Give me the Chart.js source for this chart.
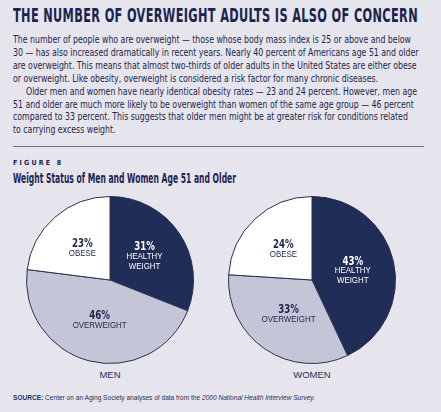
<!DOCTYPE html>
<html>
<head>
<meta charset="utf-8">
<script src="https://cdn.jsdelivr.net/npm/chart.js@4"></script>
<style>
  html, body { margin: 0; padding: 0; }
  body { width: 441px; height: 412px; background: #e6e5ee; position: relative; overflow: hidden;
         color: #1d2548; font-family: "DejaVu Sans Condensed", "Liberation Sans Narrow", "Liberation Sans", sans-serif; }
  .abs { position: absolute; white-space: nowrap; transform-origin: left center; }
  #title { left: 13px; top: 4px; font-size: 19px; font-weight: bold; color: #1b2450; letter-spacing: 0.5px; }
  .line { font-size: 11px; line-height: 13px; }
  #rule { position: absolute; left: 13px; top: 146px; width: 411px; height: 1px; background: #6e7088; }
  #fig { left: 13px; top: 159px; font-size: 7px; font-weight: bold; letter-spacing: 2.2px; color: #1b2450; }
  #subtitle { left: 13px; top: 170px; font-size: 14.5px; font-weight: bold; color: #1b2450; }
  .pie { position: absolute; top: 196px; width: 168px; height: 168px; }
  .grp { position: absolute; top: 369px; font-size: 9.5px; color: #2a3050; transform: translateX(-50%);
         font-family: "Liberation Sans", sans-serif; }
  #source { left: 13px; top: 394px; font-size: 7px; color: #2a3050; font-family: "Liberation Sans", sans-serif; }
</style>
</head>
<body>
<div id="title" class="abs">THE NUMBER OF OVERWEIGHT ADULTS IS ALSO OF CONCERN</div>
<div id="text"></div>
<div id="rule"></div>
<div id="fig" class="abs">FIGURE 8</div>
<div id="subtitle" class="abs">Weight Status of Men and Women Age 51 and Older</div>
<div class="pie" style="left:26px"><canvas id="menChart" width="168" height="168"></canvas></div>
<div class="pie" style="left:228px"><canvas id="womenChart" width="168" height="168"></canvas></div>
<div class="grp" id="menLabel" style="left:110px"></div>
<div class="grp" id="womenLabel" style="left:312px"></div>
<div id="source" class="abs"><b>SOURCE:</b> Center on an Aging Society analyses of data from the <i>2000 National Health Interview Survey.</i></div>
<script>
const categories = ['HEALTHY WEIGHT', 'OVERWEIGHT', 'OBESE'];
const menValues = [31, 46, 23];
const womenValues = [43, 33, 24];
const groupLabels = ['MEN', 'WOMEN'];
const sliceColors = ['#1f2d57', '#c4c6d8', '#ffffff'];
const labelColors = ['#ffffff', '#1d2548', '#1d2548'];

const bodyLines = [
  'The number of people who are overweight — those whose body mass index is 25 or above and below',
  '30 — has also increased dramatically in recent years. Nearly 40 percent of Americans age 51 and older',
  'are overweight. This means that almost two-thirds of older adults in the United States are either obese',
  'or overweight. Like obesity, overweight is considered a risk factor for many chronic diseases.',
  'Older men and women have nearly identical obesity rates — 23 and 24 percent. However, men age',
  '51 and older are much more likely to be overweight than women of the same age group — 46 percent',
  'compared to 33 percent. This suggests that older men might be at greater risk for conditions related',
  'to carrying excess weight.'
];

// squeeze an element horizontally to a target width
function fitWidth(el, target) {
  const w = el.getBoundingClientRect().width;
  el.style.transform = 'scaleX(' + (target / w) + ')';
  return target / w;
}

fitWidth(document.getElementById('title'), 405);
fitWidth(document.getElementById('subtitle'), 223);
fitWidth(document.getElementById('source'), 302);

const textBox = document.getElementById('text');
let lineEls = [];
bodyLines.forEach((txt, i) => {
  const d = document.createElement('div');
  d.className = 'abs line';
  d.textContent = txt;
  d.style.left = (i === 4 ? 26 : 13) + 'px';
  d.style.top = (33 + i * 12.9) + 'px';
  textBox.appendChild(d);
  lineEls.push(d);
});
const s = 398 / lineEls[0].getBoundingClientRect().width;
lineEls.forEach(d => d.style.transform = 'scaleX(' + s + ')');

document.getElementById('menLabel').textContent = groupLabels[0];
document.getElementById('womenLabel').textContent = groupLabels[1];

const sliceLabels = {
  id: 'sliceLabels',
  afterDatasetsDraw(chart) {
    const ctx = chart.ctx;
    const meta = chart.getDatasetMeta(0);
    const values = chart.data.datasets[0].data;
    meta.data.forEach((arc, i) => {
      const mid = (arc.startAngle + arc.endAngle) / 2;
      const r = arc.outerRadius * 0.5;
      const x = arc.x + Math.cos(mid) * r;
      const y = arc.y + Math.sin(mid) * r;
      const words = categories[i].split(' ');
      const lh = 9.5;
      const total = lh * (words.length + 1);
      let yy = y - total / 2 + lh / 2;
      ctx.save();
      ctx.fillStyle = labelColors[i];
      ctx.textAlign = 'center';
      ctx.textBaseline = 'middle';
      ctx.translate(x, 0);
      ctx.scale(0.8, 1);
      ctx.font = 'bold 12px "DejaVu Sans Condensed", "DejaVu Sans", sans-serif';
      ctx.fillText(values[i] + '%', 0, yy);
      ctx.font = '9px "Liberation Sans", sans-serif';
      ctx.scale(1.1, 1);
      words.forEach(w => {
        yy += lh;
        ctx.fillText(w, 0, yy);
      });
      ctx.restore();
    });
  }
};

function makePie(id, values) {
  new Chart(document.getElementById(id).getContext('2d'), {
    type: 'pie',
    data: {
      labels: categories,
      datasets: [{
        data: values,
        backgroundColor: sliceColors,
        borderColor: '#2a3050',
        borderWidth: 1
      }]
    },
    options: {
      responsive: false,
      animation: false,
      layout: { padding: 0 },
      plugins: { legend: { display: false }, tooltip: { enabled: false } }
    },
    plugins: [sliceLabels]
  });
}

makePie('menChart', menValues);
makePie('womenChart', womenValues);
</script>
</body>
</html>
